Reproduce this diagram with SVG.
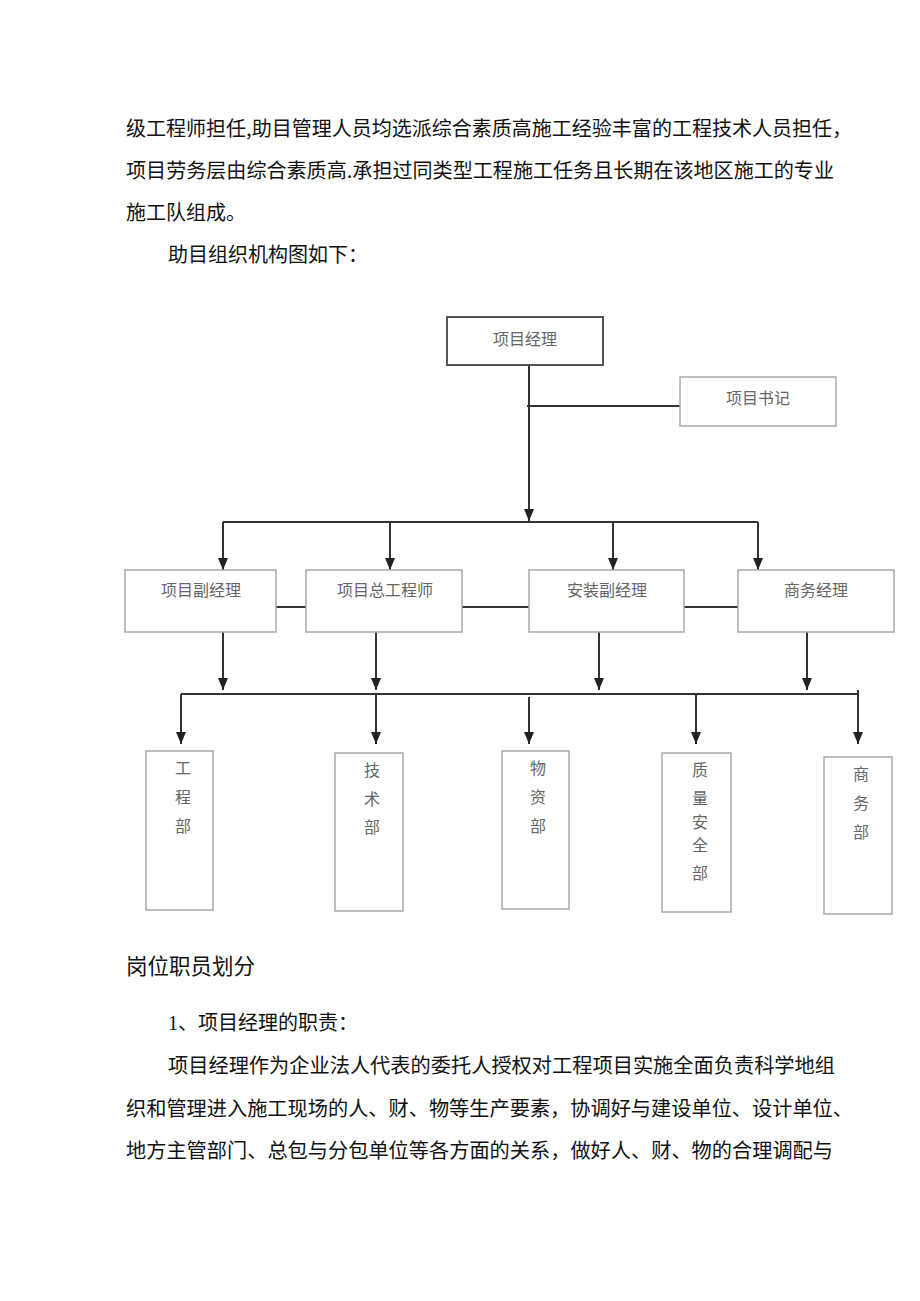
<svg xmlns="http://www.w3.org/2000/svg" width="920" height="1301" viewBox="0 0 920 1301">
<defs>
<style>
.p{font-family:"Noto Sans CJK SC","Noto Sans",sans-serif;font-size:20px;fill:#111}
.h{font-family:"Noto Sans CJK SC","Noto Sans",sans-serif;font-size:21.5px;fill:#111}
.n{font-family:"Noto Sans CJK SC","Noto Sans",sans-serif;font-size:16px;fill:#666;text-anchor:middle}
.box{fill:#fff;stroke:#aaa;stroke-width:1.5}
.main{fill:#fff;stroke:#555;stroke-width:2}
.c{fill:none;stroke:#333;stroke-width:2}
</style>
<marker id="ar" markerUnits="userSpaceOnUse" markerWidth="10" markerHeight="12" viewBox="0 0 10 12" refX="5" refY="12" orient="auto-start-reverse">
<path d="M0,0 L10,0 L5,12 Z" fill="#222" transform="rotate(0)"/>
</marker>
<marker id="ad" markerUnits="userSpaceOnUse" markerWidth="10" markerHeight="12" viewBox="0 0 10 12" refX="5" refY="12" orient="0">
<path d="M0,0 L10,0 L5,12 Z" fill="#222"/>
</marker>
</defs>
<rect width="920" height="1301" fill="#fff"/>
<g id="text-top">
<text class="p" x="126" y="135.5" textLength="726" lengthAdjust="spacingAndGlyphs">级工程师担任,助目管理人员均选派综合素质高施工经验丰富的工程技术人员担任，</text>
<text class="p" x="126" y="177.5" textLength="708" lengthAdjust="spacingAndGlyphs">项目劳务层由综合素质高.承担过同类型工程施工任务且长期在该地区施工的专业</text>
<text class="p" x="126" y="219.5">施工队组成。</text>
<text class="p" x="168" y="261.5">助目组织机构图如下：</text>
</g>
<g id="connectors">
<line class="c" x1="529" y1="365" x2="529" y2="521" marker-end="url(#ad)"/>
<line class="c" x1="527" y1="406" x2="680" y2="406"/>
<line class="c" x1="223" y1="522" x2="758" y2="522"/>
<line class="c" x1="223" y1="522" x2="223" y2="570" marker-end="url(#ad)"/>
<line class="c" x1="390" y1="522" x2="390" y2="570" marker-end="url(#ad)"/>
<line class="c" x1="613" y1="522" x2="613" y2="570" marker-end="url(#ad)"/>
<line class="c" x1="758" y1="522" x2="758" y2="570" marker-end="url(#ad)"/>
<line class="c" x1="276" y1="607" x2="306" y2="607"/>
<line class="c" x1="462" y1="607" x2="529" y2="607"/>
<line class="c" x1="684" y1="607" x2="738" y2="607"/>
<line class="c" x1="223" y1="632" x2="223" y2="690" marker-end="url(#ad)"/>
<line class="c" x1="376" y1="632" x2="376" y2="690" marker-end="url(#ad)"/>
<line class="c" x1="599" y1="632" x2="599" y2="690" marker-end="url(#ad)"/>
<line class="c" x1="807" y1="632" x2="807" y2="690" marker-end="url(#ad)"/>
<line class="c" x1="181" y1="694" x2="858" y2="694"/>
<line class="c" x1="181" y1="694" x2="181" y2="744" marker-end="url(#ad)"/>
<line class="c" x1="376" y1="694" x2="376" y2="744" marker-end="url(#ad)"/>
<line class="c" x1="529" y1="697" x2="529" y2="744" marker-end="url(#ad)"/>
<line class="c" x1="696" y1="694" x2="696" y2="744" marker-end="url(#ad)"/>
<line class="c" x1="858" y1="690" x2="858" y2="744" marker-end="url(#ad)"/>
</g>
<g id="n-pm"><rect class="main" x="447" y="317" width="156" height="48"/><text class="n" x="525" y="345">项目经理</text></g>
<g id="n-sec"><rect class="box" x="680" y="377" width="156" height="49"/><text class="n" x="758" y="404">项目书记</text></g>
<g id="n-dpm"><rect class="box" x="125" y="570" width="151" height="62"/><text class="n" x="201" y="596">项目副经理</text></g>
<g id="n-ce"><rect class="box" x="306" y="570" width="156" height="62"/><text class="n" x="385" y="596">项目总工程师</text></g>
<g id="n-idm"><rect class="box" x="529" y="570" width="155" height="62"/><text class="n" x="607" y="596">安装副经理</text></g>
<g id="n-bm"><rect class="box" x="738" y="570" width="156" height="62"/><text class="n" x="816" y="596">商务经理</text></g>
<g id="d-eng"><rect class="box" x="146" y="751" width="67" height="159"/>
<text class="n" x="183" y="774">工</text><text class="n" x="183" y="803">程</text><text class="n" x="183" y="832">部</text></g>
<g id="d-tech"><rect class="box" x="335" y="753" width="68" height="158"/>
<text class="n" x="372" y="776">技</text><text class="n" x="372" y="805">术</text><text class="n" x="372" y="833">部</text></g>
<g id="d-mat"><rect class="box" x="502" y="751" width="67" height="158"/>
<text class="n" x="538" y="774">物</text><text class="n" x="538" y="803">资</text><text class="n" x="538" y="832">部</text></g>
<g id="d-qs"><rect class="box" x="662" y="753" width="69" height="159"/>
<text class="n" x="700" y="776">质</text><text class="n" x="700" y="804">量</text><text class="n" x="700" y="828">安</text><text class="n" x="700" y="851">全</text><text class="n" x="700" y="879">部</text></g>
<g id="d-biz"><rect class="box" x="824" y="757" width="68" height="157"/>
<text class="n" x="861" y="780">商</text><text class="n" x="861" y="809">务</text><text class="n" x="861" y="838">部</text></g>
<g id="text-bottom">
<text class="h" x="126" y="974">岗位职员划分</text>
<text class="p" x="168" y="1030" font-size="21"><tspan font-family="Liberation Serif,serif">1</tspan>、项目经理的职责：</text>
<text class="p" x="168" y="1073" textLength="667" lengthAdjust="spacingAndGlyphs">项目经理作为企业法人代表的委托人授权对工程项目实施全面负责科学地组</text>
<text class="p" x="126" y="1116" textLength="727" lengthAdjust="spacingAndGlyphs">织和管理进入施工现场的人、财、物等生产要素，协调好与建设单位、设计单位、</text>
<text class="p" x="126" y="1158" textLength="707" lengthAdjust="spacingAndGlyphs">地方主管部门、总包与分包单位等各方面的关系，做好人、财、物的合理调配与</text>
</g>
</svg>
